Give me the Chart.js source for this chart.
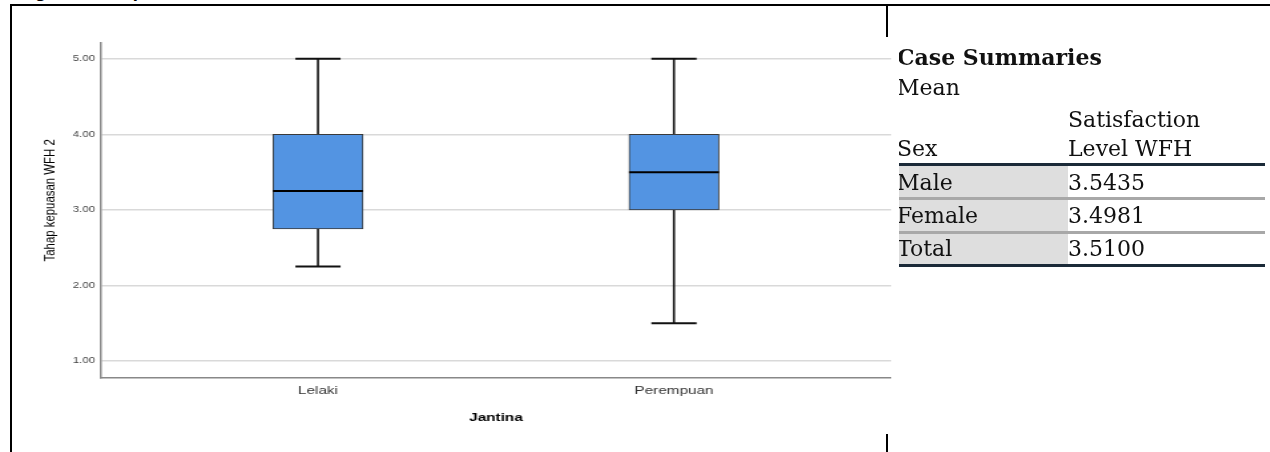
<!DOCTYPE html>
<html>
<head>
<meta charset="utf-8">
<script src="https://cdn.jsdelivr.net/npm/chart.js@4.4.1/dist/chart.umd.min.js"></script>
<style>
  html, body { margin: 0; padding: 0; background: #fff; }
  body { width: 1270px; height: 452px; position: relative; overflow: hidden; font-family: "Liberation Sans", Arial, sans-serif; }
  #plotWrap { position: absolute; left: 0; top: 0; width: 677px; height: 452px; transform: scaleX(1.33); transform-origin: 0 0; }
  .rule { position: absolute; background: #000; }
  #caption { position: absolute; left: 20px; top: -14px; font: bold 15px "DejaVu Sans", sans-serif; line-height: 15px; white-space: nowrap; }
  #tableClip { position: absolute; left: 899px; top: 0; width: 371px; height: 452px; overflow: hidden; font-family: "DejaVu Serif", serif; font-size: 22px; color: #111; }
  #tableClip div { position: absolute; white-space: nowrap; line-height: 26px; }
</style>
</head>
<body>
<div id="caption">Figure 5: Boxplot Satisfaction Level WFH</div>
<div class="rule" style="left:10px; top:4px; width:1260px; height:2px;"></div>
<div class="rule" style="left:10px; top:4px; width:2px; height:448px;"></div>
<div class="rule" style="left:886px; top:4px; width:2px; height:33px;"></div>
<div class="rule" style="left:886px; top:434px; width:2px; height:18px;"></div>

<div id="plotWrap"><canvas id="boxChart" width="677" height="452"></canvas></div>
<div id="tableClip"></div>

<script>
const categories = ["Lelaki", "Perempuan"];
const whiskerLow = [2.25, 1.5];
const q1 = [2.75, 3.0];
const median = [3.25, 3.5];
const q3 = [4.0, 4.0];
const whiskerHigh = [5.0, 5.0];
const yTicks = [1, 2, 3, 4, 5];

const sexLabels = ["Male", "Female", "Total"];
const meanValues = ["3.5435", "3.4981", "3.5100"];

const boxWidth = 67.7;
const capWidth = 34;

// whiskers go behind the box, median on top of it
const boxPlotLines = {
  id: "boxPlotLines",
  beforeDatasetsDraw(chart) {
    const { ctx, scales: { x, y } } = chart;
    ctx.save();
    ctx.strokeStyle = "#111";
    categories.forEach((c, i) => {
      const px = x.getPixelForValue(i + 1);
      ctx.lineWidth = 1.6;
      ctx.beginPath();
      ctx.moveTo(px, y.getPixelForValue(whiskerLow[i]));
      ctx.lineTo(px, y.getPixelForValue(q1[i]));
      ctx.moveTo(px, y.getPixelForValue(q3[i]));
      ctx.lineTo(px, y.getPixelForValue(whiskerHigh[i]));
      ctx.stroke();
      ctx.lineWidth = 2;
      [whiskerLow[i], whiskerHigh[i]].forEach((v) => {
        const py = y.getPixelForValue(v);
        ctx.beginPath();
        ctx.moveTo(px - capWidth / 2, py);
        ctx.lineTo(px + capWidth / 2, py);
        ctx.stroke();
      });
    });
    ctx.restore();
  },
  afterDatasetsDraw(chart) {
    const { ctx, scales: { x, y } } = chart;
    ctx.save();
    ctx.strokeStyle = "#000";
    ctx.lineWidth = 2;
    categories.forEach((c, i) => {
      const px = x.getPixelForValue(i + 1);
      const py = y.getPixelForValue(median[i]);
      ctx.beginPath();
      ctx.moveTo(px - boxWidth / 2, py);
      ctx.lineTo(px + boxWidth / 2, py);
      ctx.stroke();
    });
    ctx.restore();
  },
};

new Chart(document.getElementById("boxChart"), {
  type: "bar",
  data: {
    datasets: [
      {
        data: categories.map((c, i) => ({ x: i + 1, y: [q1[i], q3[i]] })),
        backgroundColor: "#5394e2",
        borderColor: "#3a3a3a",
        borderWidth: 1,
        borderSkipped: false,
        barThickness: boxWidth,
      },
    ],
  },
  options: {
    responsive: false,
    animation: false,
    devicePixelRatio: 1,
    layout: { padding: { top: 43, right: 7.1, left: 0, bottom: 0 } },
    plugins: { legend: { display: false }, tooltip: { enabled: false } },
    scales: {
      x: {
        type: "linear",
        offset: false,
        min: 0.3904,
        max: 2.6096,
        afterBuildTicks(axis) {
          axis.ticks = categories.map((c, i) => ({ value: i + 1 }));
        },
        afterFit(axis) {
          axis.height = 74;
        },
        ticks: {
          callback: (v) => categories[v - 1],
          font: { family: "Liberation Sans", size: 11.5 },
          color: "#333",
          padding: 6,
          maxRotation: 0,
        },
        grid: { display: false, drawTicks: false, offset: false },
        border: { color: "#888", width: 1.5 },
        title: {
          display: true,
          text: "Jantina",
          font: { family: "Liberation Sans", size: 11.5, weight: "bold" },
          color: "#000",
          padding: { top: 0, bottom: 27 },
        },
      },
      y: {
        min: 0.775,
        max: 5.21,
        afterBuildTicks(axis) {
          axis.ticks = yTicks.map((v) => ({ value: v }));
        },
        afterFit(axis) {
          axis.width = 75.9;
        },
        ticks: {
          callback: (v) => Number(v).toFixed(2),
          font: { family: "Liberation Sans", size: 8.5 },
          color: "#444",
          padding: 4.5,
        },
        grid: { color: "#d9d9d9", lineWidth: 1.5, drawTicks: false },
        border: { color: "#888", width: 1.5 },
        title: {
          display: true,
          // leading spaces lift the label a little above the plot centre, as in the SPSS output
          text: "\u2002\u2002\u2002 Tahap kepuasan WFH 2",
          font: { family: "Liberation Sans", size: 11.4 },
          color: "#000",
          padding: { top: 30.8, bottom: 0 },
        },
      },
    },
  },
  plugins: [boxPlotLines],
});

// Case Summaries table, drawn as positioned text (coordinates relative to clip at x=899)
const tbl = document.getElementById("tableClip");
function put(text, left, top, extra) {
  const d = document.createElement("div");
  d.textContent = text;
  d.style.left = left + "px";
  d.style.top = top + "px";
  if (extra) Object.assign(d.style, extra);
  tbl.appendChild(d);
}
function bar(top, height, color, left, width) {
  const d = document.createElement("div");
  Object.assign(d.style, { left: left + "px", top: top + "px", width: width + "px", height: height + "px", background: color });
  tbl.appendChild(d);
}

const rowTops = [166, 200, 234];
const rowHeights = [31, 32, 30];
rowTops.forEach((t, i) => bar(t, rowHeights[i], "#dedede", 0, 169));
bar(163, 3, "#1b2a38", 0, 366);
bar(197, 3, "#a8a8a8", 0, 366);
bar(231, 3, "#a8a8a8", 0, 366);
bar(264, 3, "#1b2a38", 0, 366);

put("Case Summaries", -2, 44, { fontWeight: "bold" });
put("Mean", -2, 75);
put("Satisfaction", 169, 107);
put("Sex", -2, 136);
put("Level WFH", 169, 136);
const textTops = [170, 203, 236];
sexLabels.forEach((s, i) => {
  put(s, -2, textTops[i]);
  put(meanValues[i], 169, textTops[i]);
});
</script>
</body>
</html>
